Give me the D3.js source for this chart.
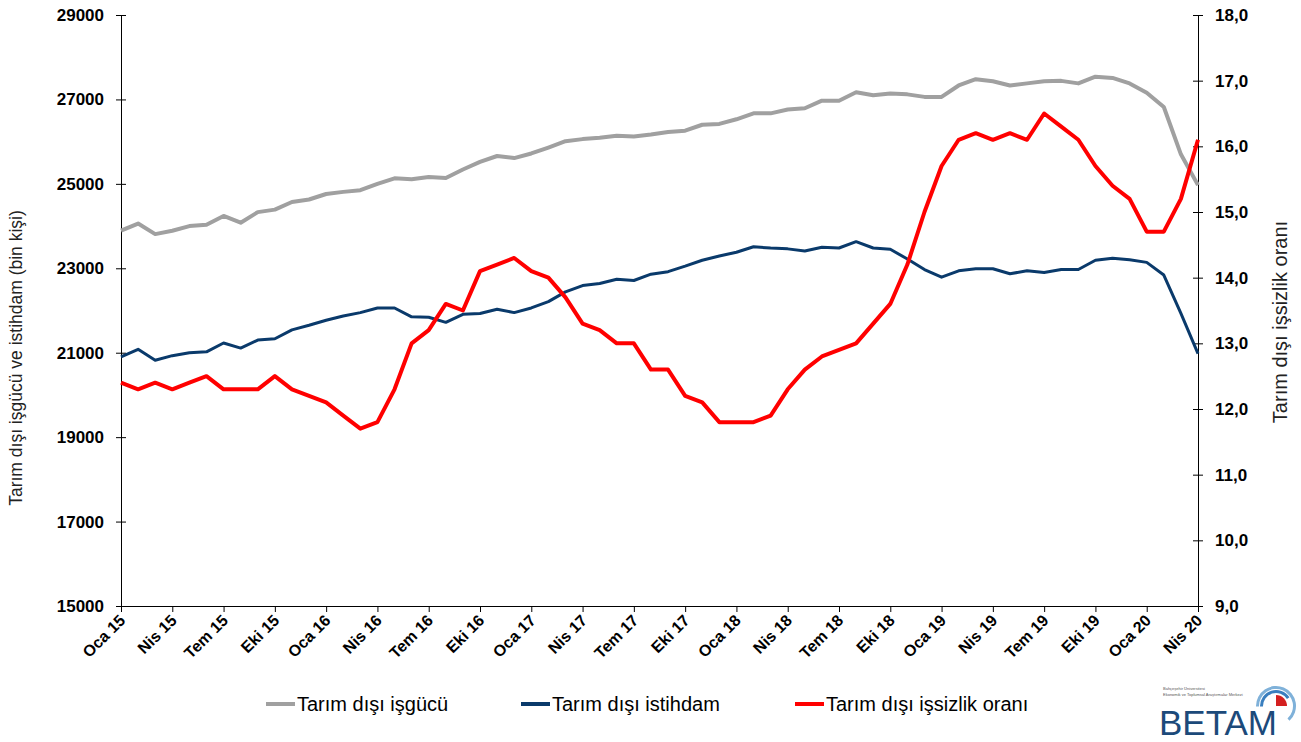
<!DOCTYPE html>
<html>
<head>
<meta charset="utf-8">
<script src="https://cdn.jsdelivr.net/npm/d3@7"></script>
<style>
  body { margin: 0; background: #fff; font-family: Arial, "Liberation Sans", sans-serif; }
  .tick text { font-family: Arial, "Liberation Sans", sans-serif; }
</style>
</head>
<body>
<div id="chart"></div>
<script>
// data: monthly, Oca 15 .. Nis 20
const monthNames = ["Oca","Şub","Mar","Nis","May","Haz","Tem","Ağu","Eyl","Eki","Kas","Ara"];
const labels = d3.range(64).map(i => monthNames[i % 12] + " " + (15 + Math.floor(i / 12)));

// Tarım dışı işgücü (bin kişi)
const isgucu = [23890,24060,23810,23890,24000,24030,24240,24080,24330,24390,
  24570,24630,24760,24810,24850,25000,25130,25110,25160,25140,
  25340,25520,25660,25610,25720,25860,26010,26060,26090,26140,
  26120,26170,26230,26260,26400,26420,26530,26670,26670,26760,
  26790,26970,26970,27170,27100,27140,27120,27060,27060,27330,
  27480,27430,27330,27380,27430,27440,27380,27540,27510,27380,
  27160,26820,25700,24970];

// Tarım dışı istihdam (bin kişi)
const istihdam = [20900,21080,20820,20930,21000,21020,21230,21110,21300,21330,
  21540,21650,21770,21870,21950,22060,22060,21850,21840,21720,
  21910,21930,22030,21950,22060,22210,22440,22590,22640,22740,
  22710,22860,22920,23050,23190,23290,23380,23510,23480,23460,
  23410,23500,23480,23630,23480,23450,23220,22970,22790,22940,
  22990,22990,22870,22940,22900,22970,22970,23190,23240,23200,
  23140,22840,21930,20980];

// Tarım dışı işsizlik oranı (%)
const issizlik = [12.4,12.3,12.4,12.3,12.4,12.5,12.3,12.3,12.3,12.5,
  12.3,12.2,12.1,11.9,11.7,11.8,12.3,13.0,13.2,13.6,
  13.5,14.1,14.2,14.3,14.1,14.0,13.7,13.3,13.2,13.0,
  13.0,12.6,12.6,12.2,12.1,11.8,11.8,11.8,11.9,12.3,
  12.6,12.8,12.9,13.0,13.3,13.6,14.2,15.0,15.7,16.1,
  16.2,16.1,16.2,16.1,16.5,16.3,16.1,15.7,15.4,15.2,
  14.7,14.7,15.2,16.1];

const leftTicks = [15000,17000,19000,21000,23000,25000,27000,29000];
const rightTicks = [9,10,11,12,13,14,15,16,17,18];

const W = 1301, H = 742;
const margin = {top: 15, right: 103, bottom: 136, left: 121},
    width = W - margin.left - margin.right,
    height = H - margin.top - margin.bottom;

const svgRoot = d3.select("#chart").append("svg")
    .attr("width", W).attr("height", H);
const svg = svgRoot.append("g")
    .attr("transform", `translate(${margin.left}, ${margin.top})`);

const x = d3.scaleLinear().domain([0, 63]).range([0, width]);
const yL = d3.scaleLinear().domain([15000, 29000]).range([height, 0]);
const yR = d3.scaleLinear().domain([9, 18]).range([height, 0]);

// left axis, ticks crossing the line
const gL = svg.append("g")
  .call(d3.axisLeft(yL).tickValues(leftTicks).tickSize(5).tickPadding(12).tickFormat(d3.format("d")));
gL.selectAll(".tick line").attr("x2", 5).attr("x1", -5);
gL.selectAll(".tick text").attr("font-size", 17).attr("font-weight", "bold").attr("fill", "#000");

// right axis
const gR = svg.append("g")
  .attr("transform", `translate(${width}, 0)`)
  .call(d3.axisRight(yR).tickValues(rightTicks).tickSize(5).tickPadding(12)
    .tickFormat(d => d3.format(".1f")(d).replace(".", ",")));
gR.selectAll(".tick line").attr("x1", -5).attr("x2", 5);
gR.selectAll(".tick text").attr("font-size", 17).attr("font-weight", "bold").attr("fill", "#000");

// bottom axis
const gB = svg.append("g")
  .attr("transform", `translate(0, ${height})`)
  .call(d3.axisBottom(x).tickValues(d3.range(0, 64, 3)).tickSize(6).tickFormat(i => labels[i]));
gB.selectAll(".tick text")
  .attr("font-size", 16).attr("font-weight", "bold").attr("fill", "#000")
  .attr("text-anchor", "end")
  .attr("transform", "translate(-6, 0) rotate(-45)")
  .attr("dy", "0.6em").attr("dx", "-0.2em");

svg.selectAll(".domain").attr("stroke", "#000");

// lines
const lineL = arr => d3.line().x((d, i) => x(i)).y(d => yL(d))(arr);
const lineR = arr => d3.line().x((d, i) => x(i)).y(d => yR(d))(arr);

svg.append("path").attr("d", lineL(isgucu))
  .attr("fill", "none").attr("stroke", "#a0a0a0").attr("stroke-width", 4).attr("stroke-linejoin", "round");
svg.append("path").attr("d", lineL(istihdam))
  .attr("fill", "none").attr("stroke", "#0a3a6b").attr("stroke-width", 3).attr("stroke-linejoin", "round");
svg.append("path").attr("d", lineR(issizlik))
  .attr("fill", "none").attr("stroke", "#ff0000").attr("stroke-width", 4).attr("stroke-linejoin", "round");

// axis titles
svgRoot.append("text")
  .attr("transform", "translate(22, 358) rotate(-90)")
  .attr("text-anchor", "middle").attr("font-size", 17.5).attr("fill", "#222")
  .text("Tarım dışı  işgücü ve istihdam (bin kişi)");
svgRoot.append("text")
  .attr("transform", "translate(1287, 322) rotate(-90)")
  .attr("text-anchor", "middle").attr("font-size", 20).attr("fill", "#222")
  .text("Tarım dışı  işsizlik oranı");

// legend
const legend = [
  {name: "Tarım dışı işgücü", color: "#a0a0a0", x: 266},
  {name: "Tarım dışı istihdam", color: "#0a3a6b", x: 521},
  {name: "Tarım dışı işsizlik oranı", color: "#ff0000", x: 795}
];
const lg = svgRoot.append("g");
legend.forEach(l => {
  lg.append("line").attr("x1", l.x).attr("x2", l.x + 29).attr("y1", 704).attr("y2", 704)
    .attr("stroke", l.color).attr("stroke-width", 4);
  lg.append("text").attr("x", l.x + 31).attr("y", 711).attr("font-size", 20).attr("fill", "#000").text(l.name);
});

// BETAM logo
const logo = svgRoot.append("g");
logo.append("text").attr("x", 1163).attr("y", 690).attr("font-size", 4).attr("fill", "#555")
  .text("Bahçeşehir Üniversitesi");
logo.append("text").attr("x", 1163).attr("y", 696).attr("font-size", 4).attr("fill", "#555")
  .text("Ekonomik ve Toplumsal Araştırmalar Merkezi");
logo.append("text").attr("x", 1159).attr("y", 735).attr("font-size", 35).attr("fill", "#1c4a7a")
  .text("BETAM");
const arc = d3.arc();
logo.append("path").attr("transform", "translate(1276, 706)")
  .attr("d", arc({innerRadius: 17, outerRadius: 20, startAngle: -1.6, endAngle: 2.4}))
  .attr("fill", "#7fb1d9");
logo.append("path").attr("transform", "translate(1276, 706)")
  .attr("d", arc({innerRadius: 13, outerRadius: 16, startAngle: -1.6, endAngle: 1.0}))
  .attr("fill", "#3a7fbf");
logo.append("path").attr("transform", "translate(1276, 706)")
  .attr("d", arc({innerRadius: 0, outerRadius: 11, startAngle: 0, endAngle: Math.PI / 2}))
  .attr("fill", "#d42020");
</script>
</body>
</html>
